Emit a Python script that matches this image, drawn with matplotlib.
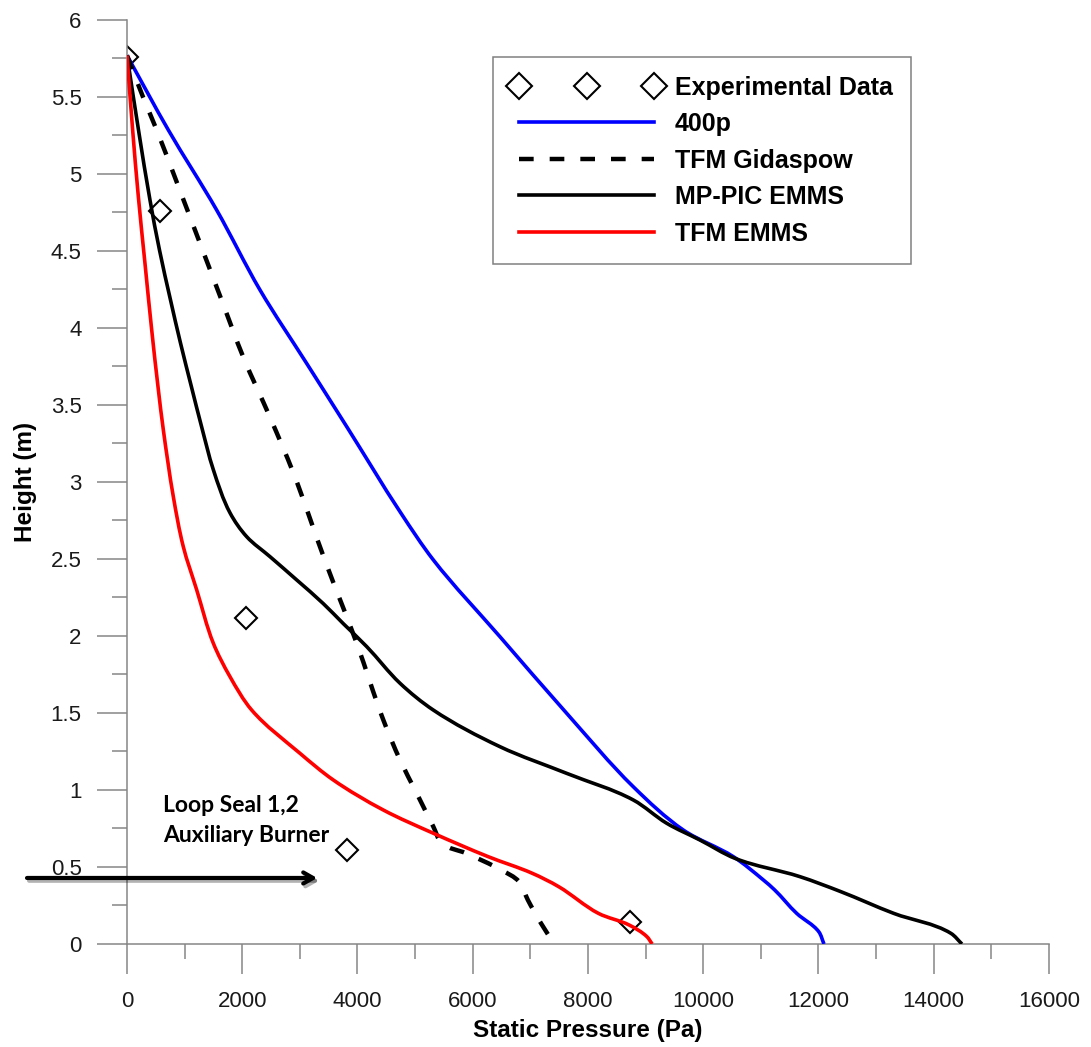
import matplotlib
matplotlib.use("Agg")
import numpy as np
import matplotlib.pyplot as plt
import matplotlib.patheffects as pe
from matplotlib.path import Path
from matplotlib.patches import PathPatch
from matplotlib.lines import Line2D
from matplotlib.ticker import MultipleLocator, FuncFormatter

plt.rcParams['font.family'] = ['Liberation Sans', 'DejaVu Sans']

# experimental static pressure profile
exp_p = [0, 573, 2065, 3818, 8729]
exp_h = [5.76, 4.76, 2.12, 0.61, 0.14]

# 400p
p400_p = [0, 717, 1556, 2308, 3118, 3812, 4750, 5316, 6473, 7630, 8786, 9654,
          10522, 11042, 11239, 11621, 12004, 12095]
p400_h = [5.77, 5.286, 4.766, 4.247, 3.77, 3.36, 2.80, 2.494, 1.995, 1.498, 1.021, 0.74,
          0.567, 0.416, 0.351, 0.199, 0.08, 0.0]

# TFM Gidaspow
gid_p = [0, 278, 515, 891, 1267, 1643, 2019, 2482, 2886, 3436, 3986, 4448, 4738,
         5027, 5316, 5465, 5885, 6497, 6803, 6956, 7185, 7415]
gid_h = [5.77, 5.50, 5.286, 4.92, 4.55, 4.18, 3.81, 3.42, 3.06, 2.49, 1.953, 1.455, 1.195,
         0.979, 0.762, 0.654, 0.589, 0.48, 0.405, 0.286, 0.134, 0.0]

# MP-PIC EMMS
mp_p = [0, 208, 399, 564, 755, 928, 1119, 1296, 1498, 1787, 2077, 2482, 2945, 3407,
        3754, 4160, 4738, 5316, 6473, 7630, 8786, 9365, 9943, 10551, 11679, 12386,
        13304, 14298, 14489]
mp_h = [5.77, 5.266, 4.831, 4.506, 4.182, 3.903, 3.617, 3.357, 3.08, 2.80, 2.645, 2.515,
        2.364, 2.21, 2.08, 1.931, 1.693, 1.519, 1.281, 1.108, 0.935, 0.784, 0.675, 0.556,
        0.437, 0.34, 0.199, 0.069, 0.0]

# TFM EMMS
emms_p = [0, 98, 197, 312, 428, 544, 630, 804, 977, 1209, 1498, 1787, 2164, 3002,
          3580, 4448, 5316, 6268, 7033, 7492, 8180, 8715, 9021, 9113]
emms_h = [5.77, 5.286, 4.853, 4.42, 3.99, 3.60, 3.34, 2.905, 2.58, 2.30, 1.953, 1.736, 1.519,
          1.238, 1.065, 0.87, 0.719, 0.567, 0.459, 0.372, 0.199, 0.123, 0.048, 0.0]

XMAX, YMAX = 16000, 6


def smooth_path(x, y, sx=922.0 / XMAX, sy=924.0 / YMAX):
    # smoothed bezier through the points; tangents worked out in screen-like units
    pts = np.column_stack([np.asarray(x, float) * sx, np.asarray(y, float) * sy])
    n = len(pts)
    seg = np.diff(pts, axis=0)
    seglen = np.hypot(seg[:, 0], seg[:, 1])
    unit = seg / seglen[:, None]
    tang = np.zeros_like(pts)
    tang[0] = unit[0]
    tang[-1] = unit[-1]
    for i in range(1, n - 1):
        t = unit[i - 1] + unit[i]
        tang[i] = t / np.hypot(*t)
    verts = [pts[0]]
    codes = [Path.MOVETO]
    for i in range(n - 1):
        d = seglen[i] / 3.0
        verts += [pts[i] + tang[i] * d, pts[i + 1] - tang[i + 1] * d, pts[i + 1]]
        codes += [Path.CURVE4] * 3
    verts = np.array(verts) / [sx, sy]
    return Path(verts, codes)


fig = plt.figure(figsize=(10.91, 10.47), dpi=100)
ax = fig.add_axes([0.1164, 0.0984, 0.8451, 0.8825])

ax.plot(exp_p, exp_h, ls='none', marker='D', ms=11.5, mfc='white', mec='black',
        mew=1.5, zorder=2)

dash = (0, (3.3, 3.6))
series = [
    (p400_p, p400_h, '#0000ff', 2.6, '-', '400p'),
    (gid_p, gid_h, 'black', 3.2, dash, 'TFM Gidaspow'),
    (mp_p, mp_h, 'black', 2.6, '-', 'MP-PIC EMMS'),
    (emms_p, emms_h, '#ff0000', 2.6, '-', 'TFM EMMS'),
]
handles = [Line2D([], [], ls='none', marker='D', ms=11.5, mfc='white', mec='black',
                  mew=1.5, label='Experimental Data')]
for xs, ys, col, lw, ls, name in series:
    ax.add_patch(PathPatch(smooth_path(xs, ys), facecolor='none', edgecolor=col,
                           lw=lw, linestyle=ls, capstyle='butt', zorder=3))
    handles.append(Line2D([], [], color=col, lw=lw, ls=ls, label=name))

ax.set_xlim(0, XMAX)
ax.set_ylim(0, YMAX)
ax.xaxis.set_major_locator(MultipleLocator(2000))
ax.xaxis.set_minor_locator(MultipleLocator(1000))
ax.yaxis.set_major_locator(MultipleLocator(0.5))
ax.yaxis.set_minor_locator(MultipleLocator(0.25))
fmt = FuncFormatter(lambda v, pos: '{:g}'.format(v))
ax.xaxis.set_major_formatter(fmt)
ax.yaxis.set_major_formatter(fmt)

for side in ['top', 'right']:
    ax.spines[side].set_visible(False)
for side in ['left', 'bottom']:
    ax.spines[side].set_color('#868686')
    ax.spines[side].set_linewidth(1.1)

ax.tick_params(which='major', direction='out', length=21.6, width=1.1, color='#868686',
               labelsize=16, labelcolor='#1a1a1a')
ax.tick_params(which='minor', direction='out', length=10.5, width=1.1, color='#868686')
ax.tick_params(axis='x', which='major', pad=12)
ax.tick_params(axis='y', which='major', pad=11)

ax.set_xlabel('Static Pressure (Pa)', fontsize=17.5, fontweight='bold', labelpad=5)
ax.set_ylabel('Height (m)', fontsize=17.5, fontweight='bold', labelpad=10)

leg = ax.legend(handles=handles, loc='upper left', bbox_to_anchor=(0.397, 0.96),
                borderaxespad=0, prop={'weight': 'bold', 'size': 18}, numpoints=3,
                handlelength=6.0, handletextpad=0.52, labelspacing=0.5,
                borderpad=0.75, fancybox=False, framealpha=1, markerscale=1.15)
leg.get_frame().set_edgecolor('#808080')
leg.get_frame().set_linewidth(1.1)

ax.text(625, 0.859, 'Loop Seal 1,2', fontsize=16.5, fontweight='bold',
        family=['Lato', 'DejaVu Sans'], va='baseline')
ax.text(625, 0.664, 'Auxiliary Burner', fontsize=16.5, fontweight='bold',
        family=['Lato', 'DejaVu Sans'], va='baseline')

ax.annotate('', xy=(3300, 0.4286), xytext=(-1735, 0.4286), annotation_clip=False,
            arrowprops=dict(arrowstyle='->,head_length=0.7,head_width=0.4', lw=3,
                            color='black', shrinkA=0, shrinkB=0,
                            path_effects=[pe.SimpleLineShadow(offset=(1.5, -2), alpha=0.3),
                                          pe.Normal()]))

fig.savefig('out.png', dpi=100)
